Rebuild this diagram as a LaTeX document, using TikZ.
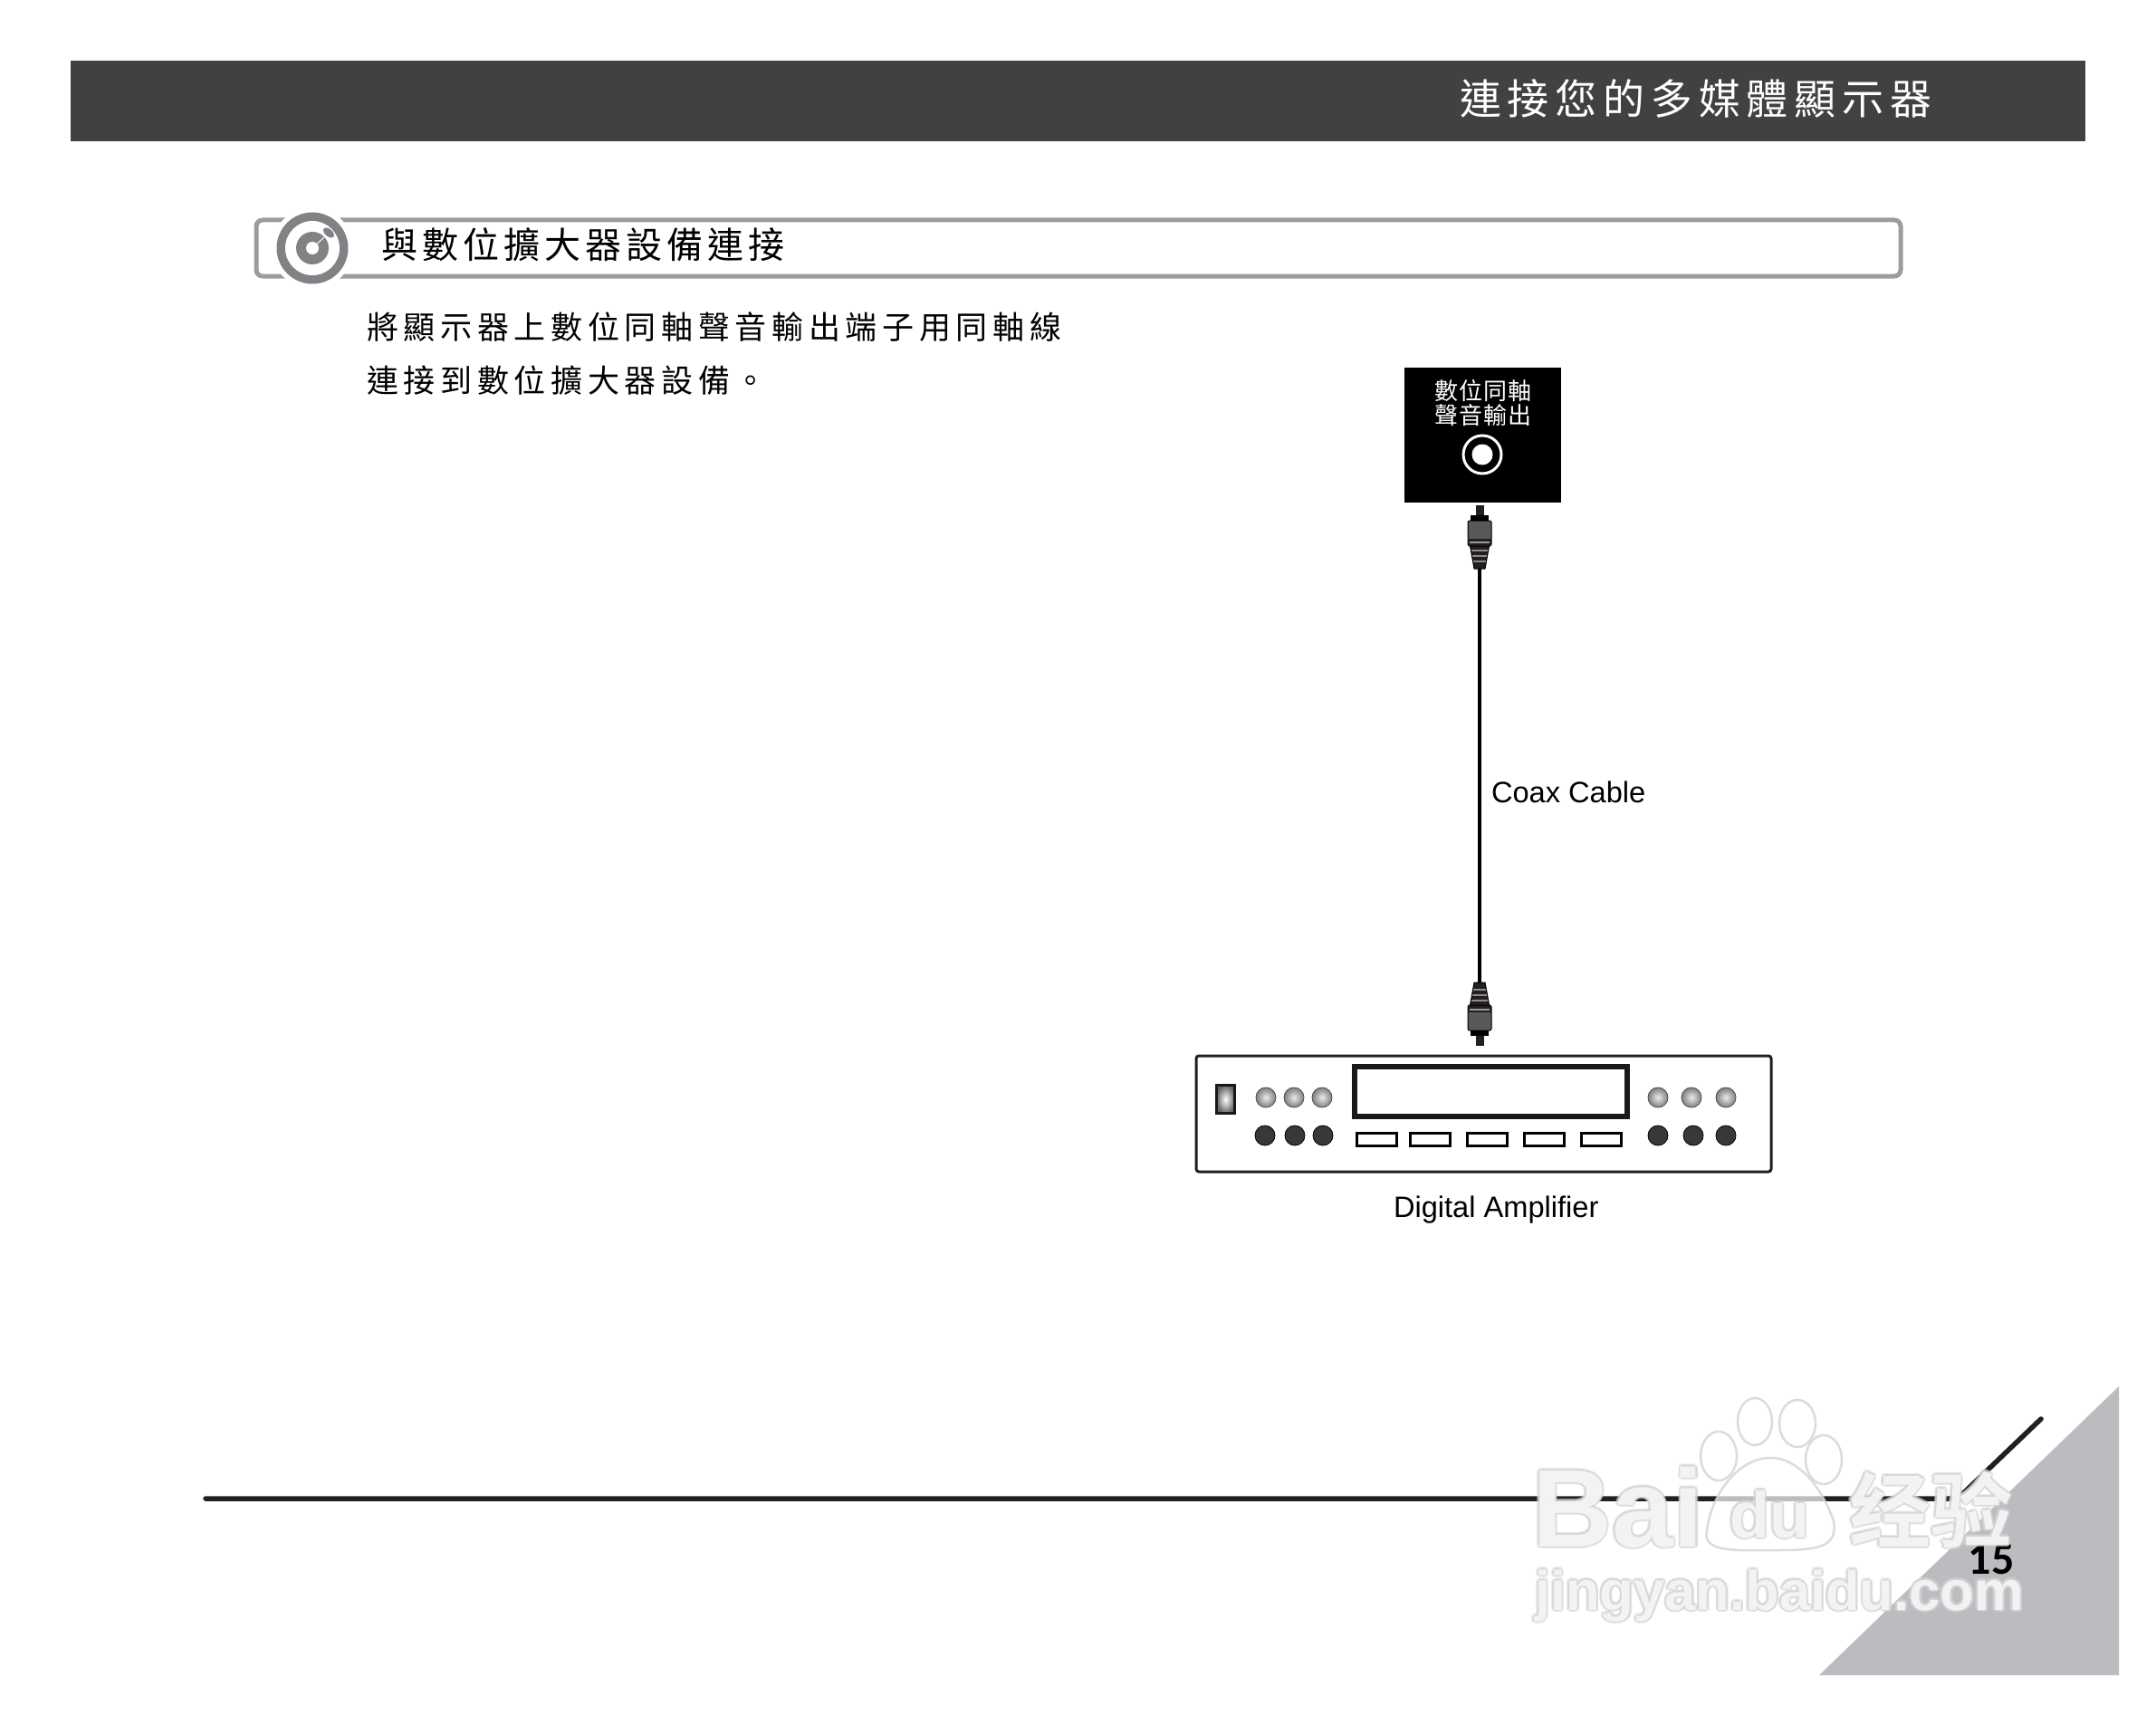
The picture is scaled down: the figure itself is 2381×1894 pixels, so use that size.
\documentclass[tikz,border=0pt]{standalone}
\usepackage{fontspec}
\setmainfont{Liberation Sans}
\newfontfamily\cjktitle[LetterSpace=14.8]{Noto Sans CJK TC}
\newfontfamily\cjkhead[LetterSpace=12.5]{Noto Sans CJK TC}
\newfontfamily\cjkbody[LetterSpace=16.2]{Noto Sans CJK TC}
\newfontfamily\cjklabel[LetterSpace=4]{Noto Sans CJK TC}
\newfontfamily\cjkwm[BoldFont=Noto Sans CJK SC Bold]{Noto Sans CJK SC}
\newfontfamily\numfont{Carlito}
\definecolor{bandgray}{HTML}{414042}
\definecolor{bargray}{HTML}{9B9C9F}
\definecolor{icongray}{HTML}{808285}
\definecolor{trigray}{HTML}{BBBCC0}
\definecolor{inkline}{HTML}{231F20}
\definecolor{wmgray}{HTML}{D4D4D4}
\definecolor{plugbody}{HTML}{58595B}
\newcommand{\fs}[1]{\fontsize{#1}{#1}\selectfont}
\newcommand{\plugshape}{%
  \fill[inkline] (-4.5,-58) rectangle (4.5,-70);
  \fill[black] (-10,-52) rectangle (10,-59);
  \draw[black,line width=1pt,fill=plugbody,rounded corners=2pt] (-13,-25) rectangle (13,-53);
  \fill[inkline] (-13,-25) rectangle (13,-33);
  \fill[plugbody!60] (-11,-28.5) rectangle (11,-30.5);
  \draw[black,line width=1pt,fill=inkline] (-6,0) -- (-10.5,-25) -- (10.5,-25) -- (6,0) -- cycle;
  \fill[plugbody!70] (-9,-19) rectangle (9,-21);
  \fill[plugbody!70] (-8,-13) rectangle (8,-15);
  \fill[plugbody!70] (-7,-7) rectangle (7,-9);
}
\newcommand{\wmnode}[4]{% x, y, font, text
  \foreach \dx/\dy [count=\wi] in {-2.5/0,2.5/0,0/-2.5,0/2.5,-1.8/-1.8,1.8/-1.8,-1.8/1.8,1.8/1.8}{
    \node[wmtext,text=wmgray,text opacity=0.5] (wmo#1x\wi) at (#1+\dx,#2+\dy) {#3#4};
  }
  \node[wmtext,text=white,text opacity=0.72] (wmf#1) at (#1,#2) {#3#4};
}
\tikzset{
  every node/.style={outer sep=0pt},
  band/.style={fill=bandgray,draw=none},
  wmtext/.style={inner sep=0pt,anchor=base west},
  txt/.style={inner sep=0pt,anchor=west,text=black},
  knobup/.style={circle,minimum size=22pt,inner sep=0pt,draw=black!70,line width=.8pt,inner color=black!8,outer color=black!50},
  knobdn/.style={circle,minimum size=22pt,inner sep=0pt,draw=black,line width=.8pt,fill=black!78},
  amppad/.style={draw=black,line width=3pt,fill=white,minimum width=44pt,minimum height=14pt,inner sep=0pt},
  toe/.style={draw=wmgray,line width=2.5pt,fill=white,fill opacity=.7,draw opacity=.8},
}
\begin{document}
\begin{tikzpicture}[x=1pt,y=-1pt]
\useasboundingbox (0,0) rectangle (2381,1894);
\fill[white] (0,0) rectangle (2381,1894);
% header band
\node[band,anchor=north west,minimum width=2225pt,minimum height=89pt,inner sep=0pt] (bandbox) at (78,67) {};
\node[inner sep=0pt,anchor=west,text=white] (title) at (1612,109) {\cjktitle\fs{46}連接您的多媒體顯示器};
% section bar
\node[draw=bargray,line width=5pt,rounded corners=7pt,anchor=north west,minimum width=1816pt,minimum height=62pt,inner sep=0pt] (secbar) at (283,243) {};
\fill[white] (345,274) circle (45);
\fill[icongray] (345,274) circle (39.5);
\fill[white] (345,274) circle (30);
\fill[icongray] (345,274) circle (18);
\fill[white] (345,274) circle (7);
\draw[white,line width=1pt] (345,274) -- (358,262);
\fill[icongray,rotate around={-40:(363,257)}] (363,257) ellipse (7 and 4);
\node[txt] (sechead) at (421,270) {\cjkhead\fs{40}與數位擴大器設備連接};
\node[txt] (bodyone) at (405,361) {\cjkbody\fs{35}將顯示器上數位同軸聲音輸出端子用同軸線};
\node[txt] (bodytwo) at (405,420) {\cjkbody\fs{35}連接到數位擴大器設備。};
% black port box
\node[fill=black,anchor=north west,minimum width=173pt,minimum height=149pt,inner sep=0pt] (portbox) at (1551,406) {};
\node[inner sep=0pt,text=white] (portone) at (1638,432) {\cjklabel\fs{26}數位同軸};
\node[inner sep=0pt,text=white] (porttwo) at (1638,459) {\cjklabel\fs{26}聲音輸出};
\node[circle,draw=white,line width=3pt,minimum size=42pt,inner sep=0pt] (portring) at (1637,502) {};
\node[circle,fill=white,minimum size=23pt,inner sep=0pt] (portdot) at (1637,502) {};
% cable and plugs
\coordinate (cabletop) at (1634,628);
\coordinate (cablebot) at (1634,1085);
\draw[black,line width=4pt] (cabletop) -- (cablebot);
\node[inner sep=0pt,anchor=west] (coax) at (1647,875) {\fs{32.6}Coax Cable};
\begin{scope}[shift={(cabletop)}]\plugshape\end{scope}
\begin{scope}[shift={(cablebot)},yscale=-1]\plugshape\end{scope}
% amplifier
\node[draw=inkline,line width=3pt,rounded corners=3pt,anchor=north west,minimum width=635pt,minimum height=128pt,inner sep=0pt] (ampbox) at (1321,1166) {};
\node[draw=black!90,line width=5.5pt,anchor=north west,minimum width=301pt,minimum height=55pt,inner sep=0pt] (display) at (1496,1178) {};
\node[draw=black!90,line width=3.5pt,minimum width=20pt,minimum height=31pt,inner sep=0pt,inner color=white,outer color=black!60] (power) at (1353.5,1214) {};
\foreach \kx [count=\ki] in {1398,1429,1460,1831,1868,1906}{
  \node[knobup] (up\ki) at (\kx,1212) {};
}
\foreach \kx [count=\ki] in {1397,1430,1461,1831,1870,1906}{
  \node[knobdn] (dn\ki) at (\kx,1254) {};
}
\foreach \px [count=\pi] in {1520,1579,1642,1705.5,1768}{
  \node[amppad] (pad\pi) at (\px,1258.5) {};
}
\node[inner sep=0pt,anchor=base west] (amplabel) at (1539,1344) {\fs{32.6}Digital Amplifier};
% footer
\fill[trigray] (2340,1531) -- (2340,1850) -- (2009,1850) -- cycle;
\coordinate (lineA) at (227,1655);
\coordinate (lineB) at (2254,1567);
\draw[inkline,line width=5.5pt,line cap=round,rounded corners=10pt] (lineA) -- (2162,1655) -- (lineB);
\node[inner sep=0pt,text=black] (pagenum) at (2199,1722) {\numfont\bfseries\fs{50}15};
% watermark
\foreach \ex/\ey/\erx/\ery [count=\ti] in {1938/1570/19/26,1985/1572/20/26,1898/1608/20/27,2014/1612/20/27}{
  \draw[toe] (\ex,\ey) ellipse (\erx pt and \ery pt);
}
\draw[toe] (1885,1690) .. controls (1890,1650) and (1920,1610) .. (1955,1610) .. controls (1990,1610) and (2015,1650) .. (2025,1680) .. controls (2030,1710) and (2005,1712) .. (1960,1712) .. controls (1915,1712) and (1880,1715) .. (1885,1690) -- cycle;
\wmnode{1692}{1708}{\bfseries\fs{122}}{Bai}
\wmnode{1910}{1698}{\bfseries\fs{72}}{du}
\wmnode{2042}{1702}{\cjkwm\bfseries\fs{90}}{经验}
\wmnode{1695}{1778}{\bfseries\fs{61.5}}{jingyan.baidu.com}
\end{tikzpicture}
\end{document}
